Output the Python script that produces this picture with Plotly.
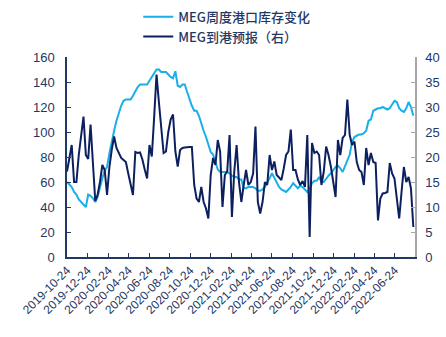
import pandas as pd
import plotly.graph_objects as go

# Weekly observation dates
dates = pd.date_range("2019-10-24", periods=148, freq="7D")

# MEG weekly port inventory (left axis, 10k t)
inventory = [
    60, 58, 56, 52, 50, 46, 44, 42, 40, 50,
    49, 47, 44, 48, 56, 63, 69, 72, 83, 93,
    101, 109, 116, 121, 125, 126, 126, 126, 129, 133,
    136, 138, 138, 138, 138, 141, 144, 148, 150, 150,
    148, 148, 148, 146, 144, 143, 148.6, 137, 136, 138,
    138, 132, 126, 121, 117, 117, 113, 106, 101, 96,
    89, 84, 82, 75, 70, 68, 68, 68, 68, 67,
    65, 64, 64, 62, 62, 55, 55, 56, 56, 56,
    55, 53, 53, 54, 56, 59, 63, 67, 63, 60,
    56, 54, 53, 52, 54, 56, 59, 57, 55, 57,
    56, 54, 52, 55, 59, 61, 61, 64, 60, 60,
    63, 65, 67, 70, 72, 73, 71, 68, 73, 78,
    82, 92, 96, 97, 98, 98, 99, 101, 109, 110,
    117, 118, 119, 119, 120, 119, 118, 119, 122, 125,
    124, 119, 117, 116, 119, 124, 120, 113,
]

# MEG arrival forecast (right axis, 10k t)
arrivals = [
    17.1, 20, 22.4, 15, 15, 20.4, 24, 28.1, 20.4, 19.6,
    26.5, 19, 11.2, 12.5, 15, 18.4, 17.4, 12.4, 18, 21.5,
    24.1, 21.8, 20.8, 19.8, 19.4, 19, 16.7, 14.5, 12.4, 21,
    20.8, 20.9, 19.5, 17.5, 15.7, 22.4, 20.1, 28, 36.5, 31,
    26, 20.8, 21.1, 25, 27.5, 28.5, 21.1, 18.1, 21.4, 21.8,
    21.9, 22, 22, 22, 14.4, 11.7, 11, 14, 11, 9.7,
    7.7, 16.4, 19.8, 18.4, 23.4, 21.1, 10, 16.4, 17.1, 24.4,
    8, 17.1, 22.4, 15, 11, 14.4, 17.4, 14.4, 15, 16.7,
    26.1, 11, 8.7, 11, 15, 14.4, 20.4, 17.4, 19.1, 16.4,
    15.8, 15.4, 17.7, 20.4, 21.1, 25.5, 17.4, 17.4, 15.5, 14.4,
    15.2, 14, 24.4, 4, 22.8, 20.8, 21.1, 20.4, 14.4, 17.1,
    22.1, 20.4, 18.1, 14.7, 12, 23.4, 20.4, 23.8, 24.4, 31.5,
    24.4, 22.4, 23.1, 19, 17.4, 17, 14.4, 21.8, 18.4, 20.8,
    19, 18.8, 7.3, 11.7, 12.7, 12.8, 13, 18.8, 16.7, 15.7,
    12, 7.7, 13, 18, 15, 16, 13.7, 6,
]

tick_dates = [
    "2019-10-24", "2019-12-24", "2020-02-24", "2020-04-24", "2020-06-24",
    "2020-08-24", "2020-10-24", "2020-12-24", "2021-02-24", "2021-04-24",
    "2021-06-24", "2021-08-24", "2021-10-24", "2021-12-24", "2022-02-24",
    "2022-04-24", "2022-06-24",
]

NAVY = "#1F3864"
LIGHT = "#1AAFE8"
DARK = "#0C1F5E"

fig = go.Figure()
fig.add_trace(go.Scatter(
    x=dates, y=inventory, mode="lines", name="MEG周度港口库存变化",
    line=dict(color=LIGHT, width=2),
))
fig.add_trace(go.Scatter(
    x=dates, y=arrivals, mode="lines", name="MEG到港预报（右）",
    line=dict(color=DARK, width=2), yaxis="y2",
))

fig.update_layout(
    width=446, height=337,
    margin=dict(l=67, r=31, t=57, b=80, autoexpand=False),
    paper_bgcolor="white", plot_bgcolor="white",
    font=dict(family="Liberation Sans, Arial, sans-serif", color=NAVY, size=12),
    showlegend=True,
    legend=dict(
        orientation="v", xref="container", x=0.31, xanchor="left",
        yref="container", y=0.995, yanchor="top",
        font=dict(family="Noto Sans CJK SC", size=13, color=NAVY, weight=500),
        bgcolor="rgba(0,0,0,0)", itemwidth=30, tracegroupgap=0,
    ),
    xaxis=dict(
        type="date", range=["2019-10-24", "2022-08-23"],
        tickvals=tick_dates, ticktext=tick_dates, tickangle=-45,
        showline=True, linecolor=NAVY, linewidth=1.5,
        ticks="inside", ticklen=4, tickcolor=NAVY,
        showgrid=False, zeroline=False,
        tickfont=dict(size=12, color=NAVY),
    ),
    yaxis=dict(
        range=[0, 160], dtick=20,
        showline=True, linecolor=NAVY, linewidth=1.5,
        ticks="inside", ticklen=4, tickcolor=NAVY,
        showgrid=False, zeroline=False, ticklabelstandoff=8,
        tickfont=dict(size=13, color=NAVY),
    ),
    yaxis2=dict(
        overlaying="y", side="right", range=[0, 40], dtick=5,
        showline=True, linecolor="#A6A6A6", linewidth=1.5,
        ticks="inside", ticklen=4, tickcolor="#A6A6A6",
        showgrid=False, zeroline=False, ticklabelstandoff=6,
        tickfont=dict(size=13, color=NAVY),
    ),
)

fig.write_html("out.html")
